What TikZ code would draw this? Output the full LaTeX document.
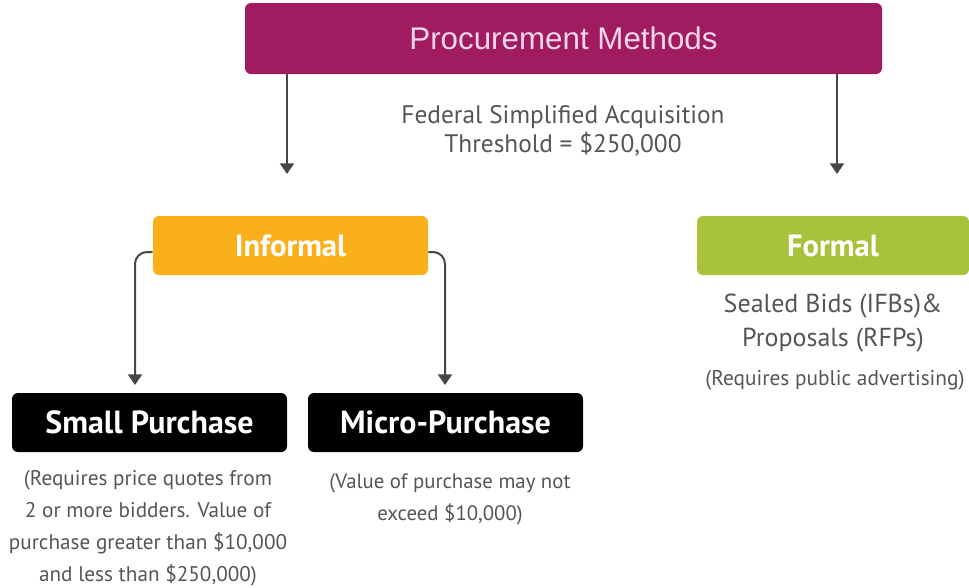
\documentclass[tikz,border=0pt]{standalone}
\usepackage{fontspec}
\setmainfont{PT Sans}
\newfontfamily\arialf{Liberation Sans}
\usetikzlibrary{arrows.meta}
\definecolor{magbox}{RGB}{160,27,95}
\definecolor{magtext}{RGB}{248,214,234}
\definecolor{orbox}{RGB}{250,176,27}
\definecolor{grbox}{RGB}{168,194,60}
\definecolor{txtgray}{RGB}{85,85,85}
\definecolor{arrgray}{RGB}{70,70,70}
\tikzset{
  box/.style={rounded corners=4.5pt, inner sep=0pt, align=center},
  arr/.style={draw=arrgray, line width=1.5pt, -{Triangle[width=10.5pt,length=8pt]}},
  note/.style={text=txtgray, align=center, inner sep=0pt},
}
\begin{document}
\begin{tikzpicture}[x=0.75pt,y=-0.75pt]
\useasboundingbox (0,0) rectangle (969,587);
\node[box, fill=magbox, minimum width=477.75pt, minimum height=53.25pt, text=magtext, font=\arialf\fontsize{23.5pt}{28pt}\selectfont] (proc) at (563.5,38.5) {Procurement Methods};
\node[note, font=\fontsize{19pt}{22pt}\selectfont] (thr) at (563,131) {Federal Simplified Acquisition\\Threshold = \$250,000};
\node[box, fill=orbox, minimum width=206.25pt, minimum height=44.25pt, text=white, font=\bfseries\fontsize{23pt}{26pt}\selectfont] (inf) at (290.5,245.5) {Informal};
\node[box, fill=grbox, minimum width=204pt, minimum height=44.25pt, text=white, font=\bfseries\fontsize{23pt}{26pt}\selectfont] (form) at (833,245.5) {Formal};
\node[box, fill=black, minimum width=206.25pt, minimum height=44.25pt, text=white, font=\bfseries\fontsize{24pt}{27pt}\selectfont] (small) at (149.5,422.5) {Small Purchase};
\node[box, fill=black, minimum width=206.25pt, minimum height=44.25pt, text=white, font=\bfseries\fontsize{24pt}{27pt}\selectfont] (micro) at (445.5,422.5) {Micro-Purchase};
\node[note, font=\fontsize{19.5pt}{25.5pt}\selectfont] (sealed) at (833,323) {Sealed Bids (IFBs)\&\\Proposals (RFPs)};
\node[note, font=\fontsize{16pt}{19pt}\selectfont] (adv) at (835,380) {(Requires public advertising)};
\node[note, font=\fontsize{15.9pt}{24pt}\selectfont] (snote) at (148,528) {(Requires price quotes from\\2 or more bidders. Value of\\purchase greater than \$10,000\\and less than \$250,000)};
\node[note, font=\fontsize{15.6pt}{24pt}\selectfont] (mnote) at (450,499) {(Value of purchase may not\\exceed \$10,000)};
\coordinate (a1) at (287,174);
\coordinate (a2) at (837,174);
\coordinate (b1) at (135,385);
\coordinate (b2) at (445,385);
\draw[arr] (proc.south -| a1) -- (a1);
\draw[arr] (proc.south -| a2) -- (a2);
\draw[arr, rounded corners=9pt] (inf.west |- 0,252) -- (b1 |- 0,252) -- (b1);
\draw[arr, rounded corners=9pt] (inf.east |- 0,252) -- (b2 |- 0,252) -- (b2);
\end{tikzpicture}
\end{document}
